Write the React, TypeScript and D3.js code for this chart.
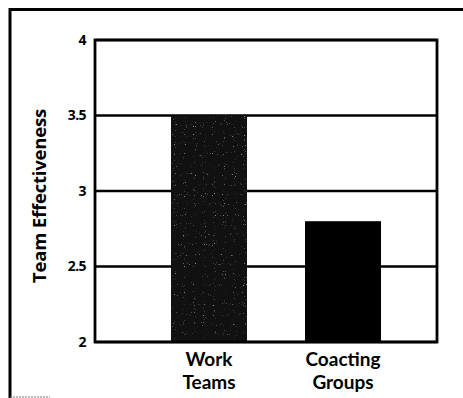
import React from "react";
import * as d3 from "d3";

const categories = ["Work Teams", "Coacting Groups"];
const categoryLines = [["Work", "Teams"], ["Coacting", "Groups"]];
const values = [3.5, 2.8];
const yTicks = [2, 2.5, 3, 3.5, 4];
const yTickLabels = ["2", "2.5", "3", "3.5", "4"];
const yTitle = "Team Effectiveness";

const W = 463;
const H = 398;
const plot = { left: 95, right: 437, top: 40, bottom: 342 };

export default function App() {
  const y = d3.scaleLinear().domain([2, 4]).range([plot.bottom, plot.top]);
  const x = d3
    .scaleBand<string>()
    .domain(categories)
    .range([171, 381])
    .paddingInner(0.433)
    .paddingOuter(0);
  const font = "'Open Sans', 'DejaVu Sans', sans-serif";
  const labelFont = "Lato, 'Open Sans', sans-serif";

  return (
    <svg
      width={W}
      height={H}
      style={{ position: "absolute", left: 0, top: 0, background: "#fff" }}
    >
      <defs>
        <filter id="speckle" x="0" y="0" width="100%" height="100%">
          <feTurbulence type="fractalNoise" baseFrequency="0.9" numOctaves="1" seed="3" result="n" />
          <feColorMatrix
            in="n"
            type="matrix"
            values="0 0 0 0 1  0 0 0 0 1  0 0 0 0 1  10 0 0 0 -6.8"
            result="dots"
          />
          <feComposite in="dots" in2="SourceGraphic" operator="in" />
        </filter>
      </defs>

      {/* outer frame */}
      <line x1={10} y1={9.5} x2={W} y2={9.5} stroke="#000" strokeWidth={3} />
      <line x1={10} y1={8} x2={10} y2={H} stroke="#000" strokeWidth={3} />
      <line x1={10} y1={397} x2={50} y2={397} stroke="#777" strokeWidth={1} strokeDasharray="2 1" />

      {/* gridlines */}
      {yTicks.map((t) => (
        <line
          key={t}
          x1={plot.left}
          x2={plot.right}
          y1={y(t)}
          y2={y(t)}
          stroke="#000"
          strokeWidth={2.6}
        />
      ))}

      {/* bars */}
      {categories.map((c, i) => (
        <g key={c}>
          <rect
            x={x(c)}
            y={y(values[i])}
            width={x.bandwidth()}
            height={y(2) - y(values[i])}
            fill={i === 0 ? "#111" : "#000"}
          />
          {i === 0 && (
            <rect
              x={x(c)}
              y={y(values[i])}
              width={x.bandwidth()}
              height={y(2) - y(values[i])}
              fill="#000"
              filter="url(#speckle)"
              opacity={0.5}
            />
          )}
        </g>
      ))}

      {/* plot frame */}
      <rect
        x={plot.left}
        y={plot.top}
        width={plot.right - plot.left}
        height={plot.bottom - plot.top}
        fill="none"
        stroke="#000"
        strokeWidth={2.8}
      />

      {/* y tick labels */}
      {yTicks.map((t, i) => (
        <text
          key={t}
          x={86}
          y={y(t)}
          dy="0.35em"
          textAnchor="end"
          fontFamily={font}
          fontWeight={700}
          fontSize={14}
          fill="#000"
          letterSpacing={-0.6}
        >
          {yTickLabels[i]}
        </text>
      ))}

      {/* y title */}
      <text
        transform={`translate(46, ${(plot.top + plot.bottom) / 2 + 5}) rotate(-90)`}
        textAnchor="middle"
        fontFamily={font}
        fontWeight={700}
        fontSize={18.5}
        fill="#000"
        letterSpacing={-0.2}
      >
        {yTitle}
      </text>

      {/* x labels */}
      {categories.map((c, i) =>
        categoryLines[i].map((ln, j) => (
          <text
            key={c + ln}
            x={(x(c) as number) + x.bandwidth() / 2}
            y={366 + j * 23}
            textAnchor="middle"
            fontFamily={labelFont}
            fontWeight={700}
            fontSize={19}
            fill="#000"
          >
            {ln}
          </text>
        ))
      )}
    </svg>
  );
}
